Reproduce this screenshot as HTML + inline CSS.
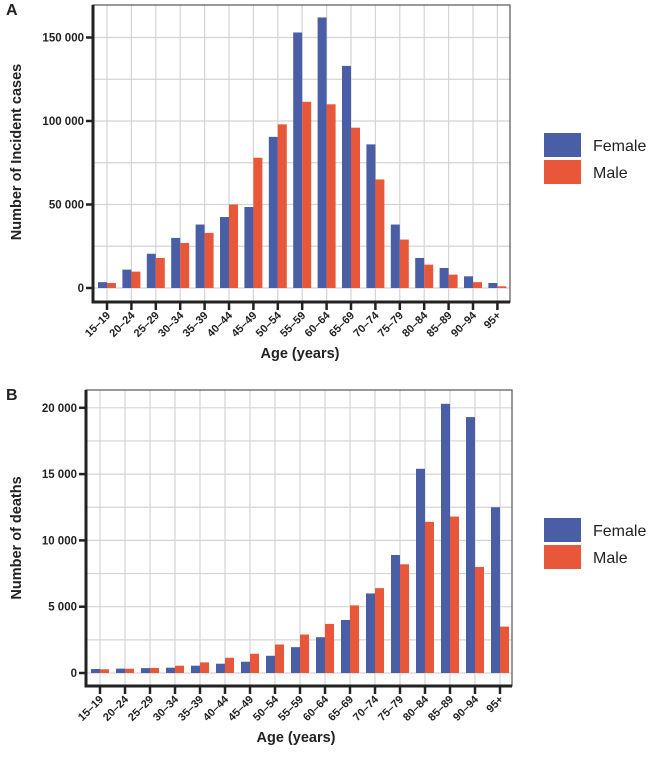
<!DOCTYPE html>
<html><head><meta charset="utf-8"><style>
body{margin:0;background:#fff;font-family:"Liberation Sans",Arial,sans-serif}
svg text{font-family:"Liberation Sans",Arial,sans-serif}
</style></head><body>
<svg id="chart" width="652" height="764" xmlns="http://www.w3.org/2000/svg"></svg>
<script>
const categories=["15–19","20–24","25–29","30–34","35–39","40–44","45–49","50–54","55–59","60–64","65–69","70–74","75–79","80–84","85–89","90–94","95+"];
const incidenceFemale=[3500,11000,20500,30000,38000,42500,48500,90500,153000,162000,133000,86000,38000,18000,12000,7000,3000];
const incidenceMale=[3000,9800,18000,27000,33000,50000,78000,98000,111500,110000,96000,65000,29000,14000,8000,3500,1000];
const deathsFemale=[300,330,370,400,550,700,850,1300,1950,2700,4000,6000,8900,15400,20300,19300,12500];
const deathsMale=[280,320,380,550,800,1150,1450,2150,2900,3700,5100,6400,8200,11400,11800,8000,3500];
const ticksA=[0,50000,100000,150000];
const tickLabelsA=["0","50 000","100 000","150 000"];
const ticksB=[0,5000,10000,15000,20000];
const tickLabelsB=["0","5 000","10 000","15 000","20 000"];
const NS="http://www.w3.org/2000/svg";
const svg=document.getElementById('chart');
function mk(t,a,p){const e=document.createElementNS(NS,t);for(const k in a)e.setAttribute(k,a[k]);(p||svg).appendChild(e);return e;}
function panel(o){
  const g=mk('g',{});
  
  
  const y=v=>o.y0-(v/o.step)*o.stepPx;
  const x=i=>o.cx0+i*o.dx;
  for(let v=0;y(v)>o.top;v+=o.step/2){const l=mk('line',{x1:o.left,x2:o.right,y1:y(v),y2:y(v),stroke:'#d4d4d4','stroke-width':1.2},g);
    }
  categories.forEach((c,i)=>{const l=mk('line',{x1:x(i),x2:x(i),y1:o.top,y2:o.bottom,stroke:'#d4d4d4','stroke-width':1.2},g);
    });
  categories.forEach((c,i)=>{
    const bf=mk('rect',{x:x(i)-9,y:y(o.f[i]),width:9,height:o.y0-y(o.f[i]),fill:'#4a5ea6'},g);
    
    const bm=mk('rect',{x:x(i),y:y(o.m[i]),width:9,height:o.y0-y(o.m[i]),fill:'#e8573a'},g);
    
  });
  mk('rect',{x:o.left,y:o.top,width:o.right-o.left,height:o.bottom-o.top,fill:'none',stroke:'#555','stroke-width':1.2},g);
  mk('line',{x1:o.left,x2:o.left,y1:o.top,y2:o.bottom+1.5,stroke:'#222','stroke-width':3},g);
  mk('line',{x1:o.left,x2:o.right,y1:o.bottom,y2:o.bottom,stroke:'#222','stroke-width':3},g);
  o.ticks.forEach((v,i)=>{
    mk('line',{x1:o.left-7,x2:o.left,y1:y(v),y2:y(v),stroke:'#222','stroke-width':2.5},g);
    const t=mk('text',{x:o.left-9,y:y(v)+4,'text-anchor':'end','font-size':11.5,'font-weight':'bold',fill:'#222'},g);
    t.textContent=o.labels[i];
  });
  categories.forEach((c,i)=>{
    mk('line',{x1:x(i),x2:x(i),y1:o.bottom,y2:o.bottom+8,stroke:'#222','stroke-width':2.5},g);
    const t=mk('text',{x:x(i)+4,y:o.bottom+14,'text-anchor':'end','font-size':11,'font-weight':'bold',fill:'#222',transform:`rotate(-45 ${x(i)+4} ${o.bottom+14})`},g);
    t.textContent=c;
  });
  const xt=mk('text',{x:o.xtX,y:o.bottom+56,'text-anchor':'middle','font-size':14.5,'font-weight':'bold',fill:'#222'},g);
  xt.textContent='Age (years)';
  const yt=mk('text',{x:0,y:0,'text-anchor':'middle','font-size':14.5,'font-weight':'bold',fill:'#222',transform:`translate(21 ${o.ytY}) rotate(-90)`},g);
  yt.textContent=o.ytitle;
  const pl=mk('text',{x:6,y:o.top+10,'font-size':16,'font-weight':'bold',fill:'#222'},g);
  pl.textContent=o.letter;
  const lg=mk('g',{},g);
  [['Female','#4a5ea6'],['Male','#e8573a']].forEach((d,k)=>{
    mk('rect',{x:544,y:o.legY+k*27,width:37,height:24,fill:d[1]},lg);
    const t=mk('text',{x:593,y:o.legY+k*27+18,'font-size':16,fill:'#222'},lg);
    t.textContent=d[0];
  });
}
panel({name:'panel-a-incidence',letter:'A',left:93,right:510,top:5,bottom:302,y0:288,step:50000,stepPx:83.5,cx0:107,dx:24.4,f:incidenceFemale,m:incidenceMale,ticks:ticksA,labels:tickLabelsA,ytitle:'Number of Incident cases',ytY:152,xtX:300,legY:133});
panel({name:'panel-b-deaths',letter:'B',left:86,right:512,top:390,bottom:686,y0:673,step:5000,stepPx:66.3,cx0:100,dx:25,f:deathsFemale,m:deathsMale,ticks:ticksB,labels:tickLabelsB,ytitle:'Number of deaths',ytY:538,xtX:296,legY:518});
</script>
</body></html>
